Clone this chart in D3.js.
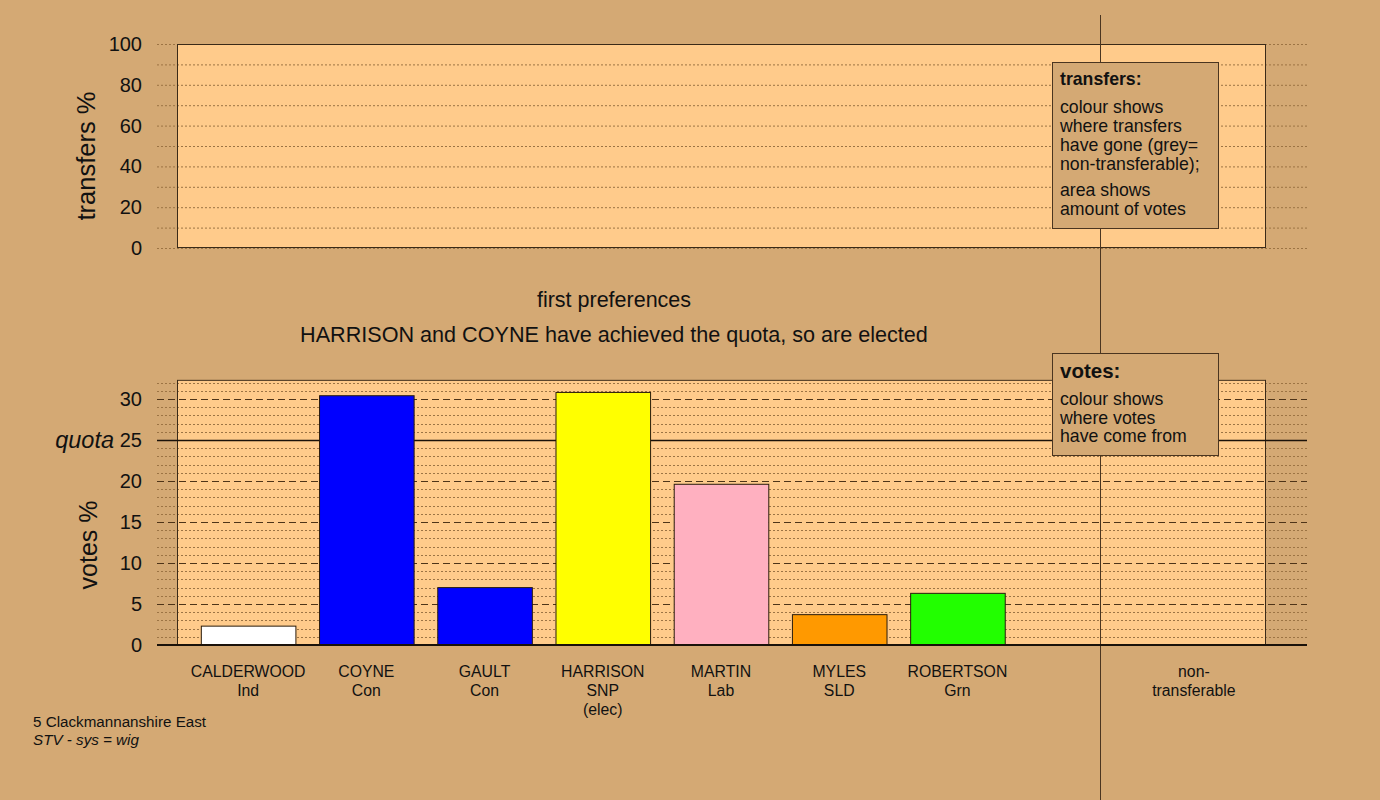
<!DOCTYPE html>
<html>
<head>
<meta charset="utf-8">
<script src="https://cdn.jsdelivr.net/npm/d3@7"></script>
<style>
  body { margin: 0; background: #d4a974; }
  svg { display: block; font-family: "Liberation Sans", Arial, sans-serif; }
</style>
</head>
<body>
<svg id="chart" width="1380" height="800"></svg>
<script>
// Count 1: first preferences, 5 Clackmannanshire East
const candidates = ["CALDERWOOD", "COYNE", "GAULT", "HARRISON", "MARTIN", "MYLES", "ROBERTSON"];
const parties = ["Ind", "Con", "Con", "SNP", "Lab", "SLD", "Grn"];
const notes = ["", "", "", "(elec)", "", "", ""];
const firstPrefs = [2.3, 30.4, 7.0, 30.8, 19.6, 3.7, 6.3];
const partyColours = ["#ffffff", "#0000ff", "#0000ff", "#ffff00", "#ffb0c0", "#ff9900", "#22ff00"];
const quota = 25;
const transferTicks = [0, 20, 40, 60, 80, 100];
const voteTicks = [0, 5, 10, 15, 20, 25, 30];
const nonTransferLabel = ["non-", "transferable"];

const svg = d3.select("#chart");
const W = 1380, H = 800;
const panelLeft = 177, panelRight = 1265;
const gridLeft = 157, gridRight = 1307;
const splitX = 1100;

const slots = candidates.concat(["gap", "nontransferable"]);
const x = d3.scaleBand().domain(slots).range([189, 1253]).paddingInner(0.2).paddingOuter(0.1);

// ---------- upper panel: transfers ----------
const yT = d3.scaleLinear().domain([0, 100]).range([248, 44]);

svg.append("rect")
  .attr("x", panelLeft).attr("y", yT(100))
  .attr("width", panelRight - panelLeft).attr("height", yT(0) - yT(100))
  .attr("fill", "#ffcb8b");

svg.append("g").selectAll("line")
  .data(d3.range(0, 101, 10))
  .join("line")
  .attr("x1", gridLeft).attr("x2", gridRight)
  .attr("y1", d => yT(d) + 0.5).attr("y2", d => yT(d) + 0.5)
  .attr("stroke", "#9c7444").attr("stroke-width", 1)
  .attr("stroke-dasharray", "2,2");

svg.append("rect")
  .attr("x", panelLeft + 0.5).attr("y", yT(100) + 0.5)
  .attr("width", panelRight - panelLeft).attr("height", yT(0) - yT(100) - 1)
  .attr("fill", "none").attr("stroke", "#3a2a18").attr("stroke-width", 1);

const axT = svg.append("g")
  .attr("transform", `translate(${gridLeft},0)`)
  .call(d3.axisLeft(yT).tickValues(transferTicks).tickSize(0).tickPadding(15));
axT.select(".domain").remove();
axT.selectAll("text").attr("font-size", 20).attr("fill", "#111")
  .attr("font-family", "Liberation Sans, Arial, sans-serif");

svg.append("text")
  .attr("transform", "translate(95,156) rotate(-90)")
  .attr("text-anchor", "middle").attr("font-size", 25.5).attr("fill", "#111")
  .text("transfers %");

// ---------- headings ----------
svg.append("text").attr("x", 614).attr("y", 307)
  .attr("text-anchor", "middle").attr("font-size", 21.5).attr("fill", "#111")
  .text("first preferences");
svg.append("text").attr("x", 614).attr("y", 342)
  .attr("text-anchor", "middle").attr("font-size", 21.6).attr("fill", "#111")
  .text("HARRISON and COYNE have achieved the quota, so are elected");

// ---------- lower panel: votes ----------
const yV = d3.scaleLinear().domain([0, 30]).range([645, 399]);
const vTop = d3.max(firstPrefs) * 1.05;

svg.append("rect")
  .attr("x", panelLeft).attr("y", yV(vTop))
  .attr("width", panelRight - panelLeft).attr("height", yV(0) - yV(vTop))
  .attr("fill", "#ffcb8b");

const units = d3.range(1, Math.floor(vTop) + 1).filter(v => v % 5 !== 0);
svg.append("g").selectAll("line")
  .data(units)
  .join("line")
  .attr("x1", gridLeft).attr("x2", gridRight)
  .attr("y1", d => Math.round(yV(d)) + 0.5).attr("y2", d => Math.round(yV(d)) + 0.5)
  .attr("stroke", "#9c7444").attr("stroke-width", 1)
  .attr("stroke-dasharray", "2,2");

svg.append("g").selectAll("line")
  .data(voteTicks.filter(v => v > 0 && v !== quota))
  .join("line")
  .attr("x1", gridLeft).attr("x2", gridRight)
  .attr("y1", d => Math.round(yV(d)) + 0.5).attr("y2", d => Math.round(yV(d)) + 0.5)
  .attr("stroke", "#4e3418").attr("stroke-width", 1)
  .attr("stroke-dasharray", "7,4");

svg.append("rect")
  .attr("x", panelLeft + 0.5).attr("y", yV(vTop) + 0.5)
  .attr("width", panelRight - panelLeft).attr("height", yV(0) - yV(vTop))
  .attr("fill", "none").attr("stroke", "#3a2a18").attr("stroke-width", 1);

// divider between candidates and non-transferable
svg.append("line")
  .attr("x1", splitX + 0.5).attr("x2", splitX + 0.5)
  .attr("y1", 15).attr("y2", H)
  .attr("stroke", "#4a3520").attr("stroke-width", 1);

// quota line
svg.append("line")
  .attr("x1", gridLeft).attr("x2", gridRight)
  .attr("y1", Math.round(yV(quota)) + 0.5).attr("y2", Math.round(yV(quota)) + 0.5)
  .attr("stroke", "#1a120a").attr("stroke-width", 1.3);

// bars
svg.append("g").selectAll("rect")
  .data(candidates)
  .join("rect")
  .attr("x", d => x(d) + 0.5)
  .attr("y", (d, i) => yV(firstPrefs[i]))
  .attr("width", x.bandwidth())
  .attr("height", (d, i) => yV(0) - yV(firstPrefs[i]))
  .attr("fill", (d, i) => partyColours[i])
  .attr("stroke", "#2a1c0c").attr("stroke-width", 1);

// zero line
svg.append("line")
  .attr("x1", gridLeft).attr("x2", gridRight)
  .attr("y1", yV(0)).attr("y2", yV(0))
  .attr("stroke", "#1a120a").attr("stroke-width", 2);

const axV = svg.append("g")
  .attr("transform", `translate(${gridLeft},0)`)
  .call(d3.axisLeft(yV).tickValues(voteTicks).tickSize(0).tickPadding(15));
axV.select(".domain").remove();
axV.selectAll("text").attr("font-size", 20).attr("fill", "#111")
  .attr("font-family", "Liberation Sans, Arial, sans-serif");

svg.append("text")
  .attr("x", 114).attr("y", yV(quota) + 8)
  .attr("text-anchor", "end").attr("font-size", 23.5).attr("font-style", "italic")
  .attr("fill", "#111").text("quota");

svg.append("text")
  .attr("transform", "translate(97,545) rotate(-90)")
  .attr("text-anchor", "middle").attr("font-size", 25).attr("fill", "#111")
  .text("votes %");

// category labels
const labelG = svg.append("g").attr("font-size", 15.8).attr("fill", "#111").attr("text-anchor", "middle");
candidates.forEach((c, i) => {
  const cx = x(c) + x.bandwidth() / 2;
  [c, parties[i], notes[i]].filter(s => s).forEach((s, j) => {
    labelG.append("text").attr("x", cx).attr("y", 677 + j * 19).text(s);
  });
});
nonTransferLabel.forEach((s, j) => {
  labelG.append("text")
    .attr("x", x("nontransferable") + x.bandwidth() / 2)
    .attr("y", 677 + j * 19).text(s);
});

// ---------- explanatory boxes ----------
function noteBox(bx, by, bw, bh, title, titleSize, titleY, lines) {
  const g = svg.append("g");
  g.append("rect").attr("x", bx + 0.5).attr("y", by + 0.5).attr("width", bw).attr("height", bh)
    .attr("fill", "#d4a974").attr("stroke", "#4a3520").attr("stroke-width", 1);
  g.append("text").attr("x", bx + 8).attr("y", titleY)
    .attr("font-size", titleSize).attr("font-weight", "bold").attr("fill", "#111").text(title);
  lines.forEach(l => {
    g.append("text").attr("x", bx + 8).attr("y", l[1])
      .attr("font-size", 17.7).attr("fill", "#111").text(l[0]);
  });
}

noteBox(1052, 62, 166, 166, "transfers:", 17.7, 85, [
  ["colour shows", 113], ["where transfers", 132], ["have gone (grey=", 151],
  ["non-transferable);", 170], ["area shows", 196], ["amount of votes", 215]
]);
noteBox(1052, 353, 166, 102, "votes:", 20.5, 378, [
  ["colour shows", 405], ["where votes", 424], ["have come from", 442]
]);

// ---------- footnote ----------
svg.append("text").attr("x", 33).attr("y", 727).attr("font-size", 15.2).attr("fill", "#111")
  .text("5 Clackmannanshire East");
svg.append("text").attr("x", 33).attr("y", 745).attr("font-size", 15.2).attr("font-style", "italic")
  .attr("fill", "#111").text("STV - sys = wig");
</script>
</body>
</html>
